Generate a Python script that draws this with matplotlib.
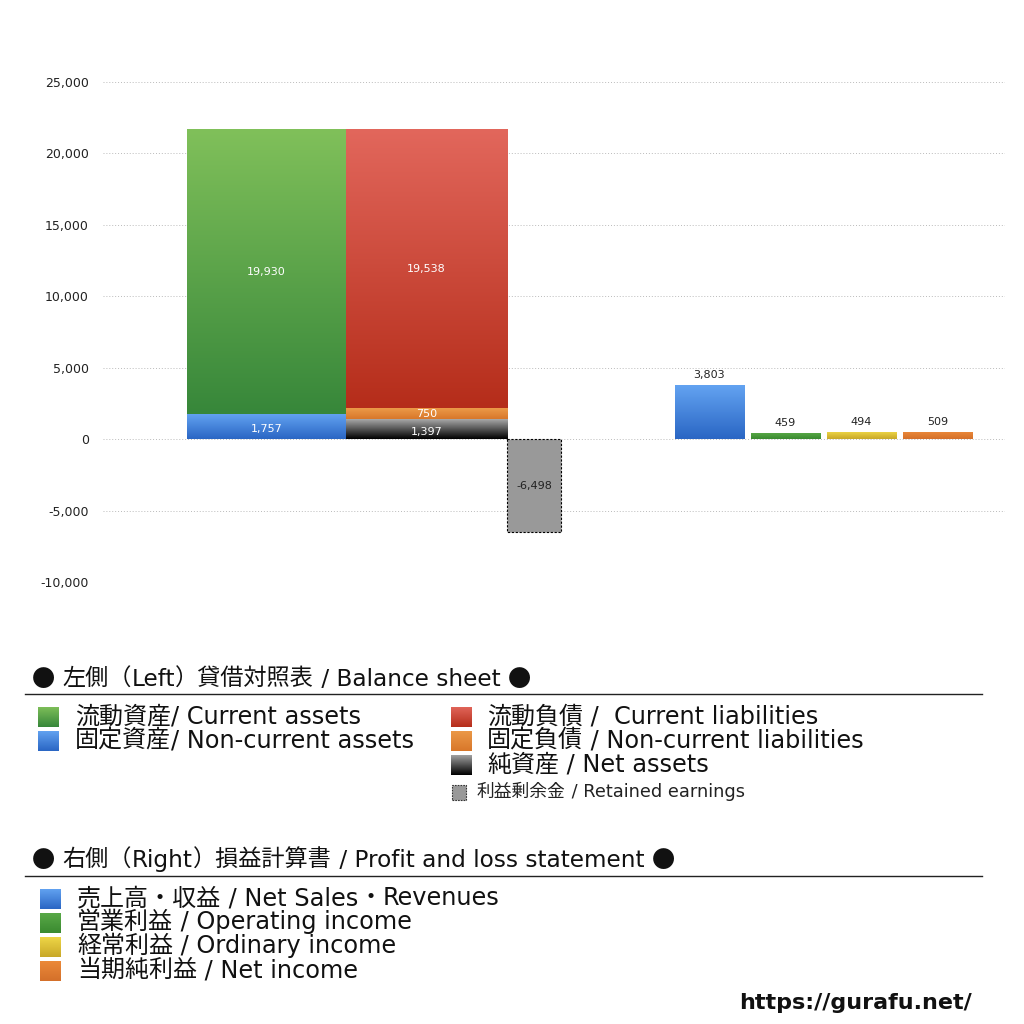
import numpy as np
import matplotlib
matplotlib.use("Agg")
import matplotlib.pyplot as plt
from matplotlib.colors import LinearSegmentedColormap
from matplotlib.patches import Rectangle

plt.rcParams['font.family'] = ['DejaVu Sans', 'Noto Sans CJK JP']
LATIN = 'DejaVu Sans'
CJK = 'Noto Sans CJK JP'

# balance sheet (left)
assets_labels = ["流動資産/ Current assets", "固定資産/ Non-current assets"]
liab_labels = ["流動負債 /  Current liabilities", "固定負債 / Non-current liabilities",
               "純資産 / Net assets"]
current_assets = 19930
noncurrent_assets = 1757
current_liab = 19538
noncurrent_liab = 750
net_assets = 1397
retained_earnings = -6498

# profit and loss (right)
pl_labels = ["売上高・収益 / Net Sales・Revenues", "営業利益 / Operating income",
             "経常利益 / Ordinary income", "当期純利益 / Net income"]
pl_values = [3803, 459, 494, 509]

yticks = [-10000, -5000, 0, 5000, 10000, 15000, 20000, 25000]

# gradient colours (top, bottom)
GREEN = ("#80c05a", "#37873a")
BLUE = ("#64a4f2", "#2a66c4")
RED = ("#e2675c", "#b52d1a")
ORANGE = ("#ec9a48", "#d8772a")
BLACK = ("#a8a8a8", "#000000")
YELLOW = ("#f0d848", "#c8a828")
PL_COLORS = [BLUE, ("#5aaa48", "#3a8a30"), YELLOW, ("#ec8a3a", "#d4702a")]


def grad_image(ax, patch, colors, extent):
    cmap = LinearSegmentedColormap.from_list("g", [colors[1], colors[0]])
    grad = np.linspace(0, 1, 128).reshape(-1, 1)
    im = ax.imshow(grad, cmap=cmap, extent=extent, origin="lower",
                   aspect="auto", zorder=3, interpolation="bilinear")
    im.set_clip_path(patch)


def grad_bar(ax, x, bottom, height, width, colors):
    bar = ax.bar(x, height, width, bottom=bottom, align="edge",
                 color=colors[1], linewidth=0, zorder=2)[0]
    y0, y1 = bottom, bottom + height
    grad_image(ax, bar, colors, (x, x + width, min(y0, y1), max(y0, y1)))
    return bar


fig = plt.figure(figsize=(10.24, 10.24), dpi=100)
ax = fig.add_axes([100 / 1024, 1 - 582 / 1024, 905 / 1024, 500 / 1024])

# layout in slot units
x_assets, w_assets = 1.145, 2.09
x_liab, w_liab = 3.237, 2.12
x_ret, w_ret = 5.357, 0.71
x_pl0, w_pl, step_pl = 7.566, 0.91, 1.0

grad_bar(ax, x_assets, 0, noncurrent_assets, w_assets, BLUE)
grad_bar(ax, x_assets, noncurrent_assets, current_assets, w_assets, GREEN)
grad_bar(ax, x_liab, 0, net_assets, w_liab, BLACK)
grad_bar(ax, x_liab, net_assets, noncurrent_liab, w_liab, ORANGE)
grad_bar(ax, x_liab, net_assets + noncurrent_liab, current_liab, w_liab, RED)
ax.bar(x_ret, retained_earnings, w_ret, align="edge", color="#999999",
       edgecolor="black", linestyle=(0, (2, 1.5)), linewidth=0.8, zorder=2)

tk = dict(ha="center", va="center", fontsize=8, color="white", zorder=5)
ax.text(x_assets + w_assets / 2, noncurrent_assets + current_assets / 2, f"{current_assets:,}", **tk)
ax.text(x_assets + w_assets / 2, noncurrent_assets / 2 - 200, f"{noncurrent_assets:,}", **tk)
ax.text(x_liab + w_liab / 2, net_assets + noncurrent_liab + current_liab / 2, f"{current_liab:,}", **tk)
ax.text(x_liab + w_liab / 2, net_assets + noncurrent_liab / 2, f"{noncurrent_liab:,}", **tk)
ax.text(x_liab + w_liab / 2, net_assets / 2 - 200, f"{net_assets:,}", **tk)
ax.text(x_ret + w_ret / 2, retained_earnings / 2, f"{retained_earnings:,}",
        ha="center", va="center", fontsize=8, color="#222222", zorder=5)

for i, (v, c) in enumerate(zip(pl_values, PL_COLORS)):
    x = x_pl0 + i * step_pl
    grad_bar(ax, x, 0, v, w_pl, c)
    ax.text(x + w_pl / 2, v + 350, f"{v:,}", ha="center", va="bottom",
            fontsize=8, color="#222222", zorder=5)

ax.set_xlim(0, 11.91)
ax.set_ylim(-10000, 25000)
ax.set_yticks(yticks)
ax.set_yticklabels([f"{t:,}" for t in yticks], fontsize=9, color="#222222")
ax.set_xticks([])
ax.tick_params(axis="y", length=0, pad=8)
for s in ax.spines.values():
    s.set_visible(False)
for t in yticks:
    ax.axhline(t, xmin=0.003, xmax=1, color="#bbbbbb", linestyle=(0, (1, 2)),
               linewidth=0.7, zorder=1)


def fy(px):
    return 1 - px / 1024


renderer = fig.canvas.get_renderer()


def run_width(s, fam, size):
    # advance width incl. spaces: measure with a guard char
    t = fig.text(0, 0, s + "|", fontsize=size, family=fam)
    g = fig.text(0, 0, "|", fontsize=size, family=fam)
    w = t.get_window_extent(renderer).width - g.get_window_extent(renderer).width
    t.remove()
    g.remove()
    return w


def mixed_text(xpx, ypx, s, size, color="#111111"):
    # latin in DejaVu, CJK / symbols in Noto CJK, laid out run by run
    runs = []
    for ch in s:
        fam = CJK if ord(ch) > 0x2000 else LATIN
        if runs and runs[-1][1] == fam:
            runs[-1][0] += ch
        else:
            runs.append([ch, fam])
    x = xpx
    base = ypx + size * 0.36
    for txt, fam in runs:
        fig.text(x / 1024, fy(base), txt, fontsize=size, family=fam,
                 va="baseline", ha="left", color=color)
        x += run_width(txt, fam, size)


def swatch(xpx, ypx, size, colors):
    sax = fig.add_axes([xpx / 1024, fy(ypx + size / 2), size / 1024, size / 1024])
    cmap = LinearSegmentedColormap.from_list("g", [colors[1], colors[0]])
    sax.imshow(np.linspace(0, 1, 64).reshape(-1, 1), cmap=cmap, origin="lower",
               aspect="auto", extent=(0, 1, 0, 1))
    sax.axis("off")


# section 1
mixed_text(32, 680, "● 左側（Left）貸借対照表 / Balance sheet ●", 16.7)
fig.add_artist(plt.Line2D([25 / 1024, 982 / 1024], [fy(694), fy(694)],
                          color="#222222", linewidth=1))
for i, (lab, c) in enumerate(zip(assets_labels, [GREEN, BLUE])):
    y = 717 + i * 24
    swatch(38, y, 21, c)
    mixed_text(75, y, lab, 17.3)
for i, (lab, c) in enumerate(zip(liab_labels, [RED, ORANGE, BLACK])):
    y = 717 + i * 24
    swatch(451, y, 21, c)
    mixed_text(487, y, lab, 17.3)
fig.add_artist(Rectangle((452 / 1024, fy(800)), 14 / 1024, 15 / 1024,
                         facecolor="#999999", edgecolor="#333333",
                         linestyle=(0, (1.5, 1)), linewidth=0.8,
                         transform=fig.transFigure))
mixed_text(477, 792, "利益剰余金 / Retained earnings", 12.8, "#222222")

# section 2
mixed_text(32, 861, "● 右側（Right）損益計算書 / Profit and loss statement ●", 16.7)
fig.add_artist(plt.Line2D([25 / 1024, 982 / 1024], [fy(876), fy(876)],
                          color="#222222", linewidth=1))
for i, (lab, c) in enumerate(zip(pl_labels, PL_COLORS)):
    y = 899 + i * 24
    swatch(40, y, 21, c)
    mixed_text(77, y, lab, 17.3)

fig.text(972 / 1024, fy(1003), "https://gurafu.net/", fontsize=16,
         fontweight="bold", ha="right", va="center", color="#111111")

fig.savefig("out.png", dpi=100)
